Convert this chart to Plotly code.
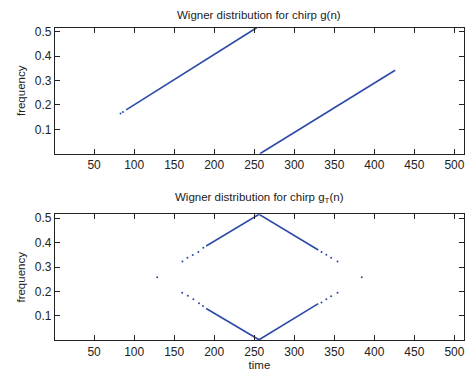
import plotly.graph_objects as go

# ---- data ----
# top panel: Wigner distribution of chirp g(n)
top_line1_n = [90, 253]
top_line1_f = [0.180, 0.516]
top_line2_n = [257, 426]
top_line2_f = [0.000, 0.342]
top_dots_n = [83, 86]
top_dots_f = [0.165, 0.171]

# bottom panel: Wigner distribution of chirp g_T(n)
bot_upper_n = [190, 256, 330]
bot_upper_f = [0.386, 0.516, 0.370]
bot_lower_n = [190, 256, 330]
bot_lower_f = [0.130, 0.002, 0.150]
bot_dots_n = [128.8, 160.3, 166.5, 173.2, 180.2, 186.4,
              160.0, 167.0, 174.0, 181.0, 186.0,
              334.0, 340.0, 346.0, 354.0,
              334.0, 340.0, 346.0, 354.0,
              384.3]
bot_dots_f = [0.258, 0.323, 0.338, 0.349, 0.362, 0.379,
              0.195, 0.182, 0.168, 0.152, 0.140,
              0.362, 0.350, 0.338, 0.323,
              0.155, 0.168, 0.180, 0.195,
              0.258]

x_ticks = [50, 100, 150, 200, 250, 300, 350, 400, 450, 500]
y_ticks = [0.1, 0.2, 0.3, 0.4, 0.5]

COL = "#2c4aa8"
fig = go.Figure()

def seg(x, y, xa, ya):
    fig.add_trace(go.Scatter(x=x, y=y, mode="lines", xaxis=xa, yaxis=ya,
                             line=dict(color=COL, width=1.6), showlegend=False,
                             hoverinfo="skip"))

def dots(x, y, xa, ya):
    fig.add_trace(go.Scatter(x=x, y=y, mode="markers", xaxis=xa, yaxis=ya,
                             marker=dict(color=COL, size=2, line=dict(width=0)),
                             showlegend=False, hoverinfo="skip"))

seg(top_line1_n, top_line1_f, "x", "y")
seg(top_line2_n, top_line2_f, "x", "y")
dots(top_dots_n, top_dots_f, "x", "y")
seg(bot_upper_n, bot_upper_f, "x2", "y2")
seg(bot_lower_n, bot_lower_f, "x2", "y2")
dots(bot_dots_n, bot_dots_f, "x2", "y2")

FONT = dict(family="Liberation Sans, Arial, sans-serif", size=12, color="#222")
TFONT = dict(family="Liberation Sans, Arial, sans-serif", size=11.5, color="#222")

axis_common = dict(range=[1, 512], showgrid=False, zeroline=False,
                   showline=True, linecolor="#222", linewidth=1, mirror="ticks",
                   ticks="inside", ticklen=5, tickcolor="#222",
                   tickvals=x_ticks, tickfont=FONT)
yaxis_common = dict(range=[0.0, 0.516], showgrid=False, zeroline=False,
                    showline=True, linecolor="#222", linewidth=1, mirror="ticks",
                    ticks="inside", ticklen=5, tickcolor="#222",
                    tickvals=y_ticks, tickformat=".1f", tickfont=FONT)

xd = [55/468, 465/468]
fig.update_layout(
    width=468, height=376,
    margin=dict(l=0, r=0, t=0, b=0),
    paper_bgcolor="white", plot_bgcolor="white",
    font=FONT,
    xaxis=dict(domain=xd, anchor="y", **axis_common),
    yaxis=dict(domain=[1-152/376, 1-25/376], anchor="x",
               title=dict(text="frequency", font=TFONT, standoff=6), **yaxis_common),
    xaxis2=dict(domain=xd, anchor="y2",
                title=dict(text="time", font=TFONT, standoff=3), **axis_common),
    yaxis2=dict(domain=[1-340/376, 1-213/376], anchor="x2",
                title=dict(text="frequency", font=TFONT, standoff=6), **yaxis_common),
    annotations=[
        dict(text="Wigner distribution for chirp g(n)", x=260/468, y=1-12/376,
             xref="paper", yref="paper", showarrow=False, font=TFONT,
             xanchor="center", yanchor="middle"),
        dict(text="Wigner distribution for chirp g<sub>T</sub>(n)", x=260/468, y=1-197/376,
             xref="paper", yref="paper", showarrow=False, font=TFONT,
             xanchor="center", yanchor="middle"),
    ],
)

fig.write_html("out.html")
